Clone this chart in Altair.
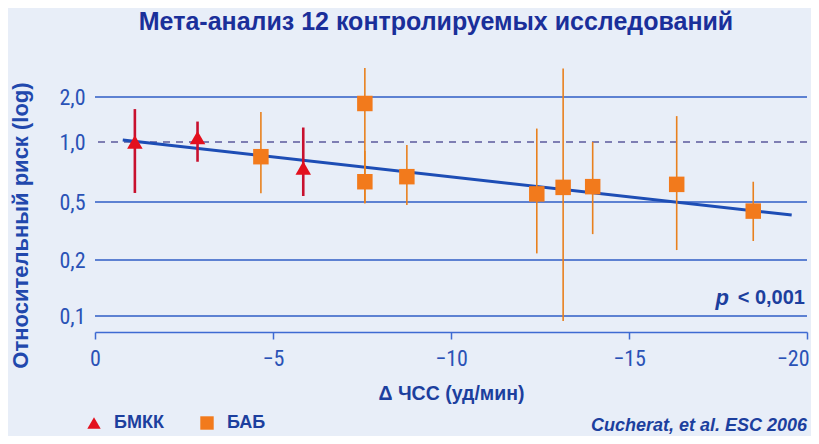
import altair as alt
import pandas as pd

# ---- data ----
groups = ["БМКК", "БМКК", "БАБ", "БМКК", "БАБ", "БАБ", "БАБ", "БАБ", "БАБ", "БАБ", "БАБ", "БАБ"]
delta_hr = [-1.12, -2.88, -4.66, -5.85, -7.58, -7.58, -8.76, -12.41, -13.15, -13.98, -16.34, -18.49]
rr = [1.00, 1.07, 0.844, 0.741, 1.81, 0.632, 0.67, 0.549, 0.592, 0.597, 0.613, 0.433]
rr_low = [0.555, 0.796, 0.553, 0.536, 0.49, 0.49, 0.477, 0.222, 0.094, 0.301, 0.234, 0.27]
rr_high = [1.66, 1.37, 1.59, 1.25, 3.13, 0.90, 0.966, 1.23, 3.11, 1.00, 1.49, 0.632]

fit_x = [-0.78, -19.57]
fit_y = [1.03, 0.407]

grid_values = [0.1, 0.2, 0.5, 2.0]
ref_value = [1.0]
y_ticks = [0.1, 0.2, 0.5, 1.0, 2.0]
x_ticks = [0, -5, -10, -15, -20]

# schematic (not strictly logarithmic) y axis of the original, reproduced piecewise
y_domain = [0.082, 0.1, 0.2, 0.5, 1.0, 2.0, 3.54]
y_range = [272, 256, 200, 142, 82, 37, 0]

df = pd.DataFrame({"group": groups, "dhr": delta_hr, "rr": rr, "lo": rr_low, "hi": rr_high})
fit_df = pd.DataFrame({"dhr": fit_x, "rr": fit_y})
grid_df = pd.DataFrame({"rr": grid_values})
ref_df = pd.DataFrame({"rr": ref_value})

NARROW = "Liberation Sans Narrow, Roboto Condensed, DejaVu Sans Condensed, Liberation Sans, Arial"
FONT = "Liberation Sans, Arial, Helvetica, sans-serif"
BLUE = "#1c3f9e"
GRID = "#2f5dc6"

xscale = alt.Scale(domain=[0, -20], nice=False, zero=False)
yscale = alt.Scale(type="log", domain=y_domain, range=y_range, nice=False)

xenc = alt.X("dhr:Q", scale=xscale, axis=alt.Axis(
    values=x_ticks, title="Δ ЧСС (уд/мин)", grid=False,
    domainColor="#3d6ad2", domainWidth=1.5, tickColor="#3d6ad2", tickSize=7, tickWidth=1.5,
    labelFont=NARROW, labelFontSize=22, labelColor="#2a52b6", labelPadding=9,
    labelAlign={"condition": {"test": "datum.value == -20", "value": "right"}, "value": "center"},
    labelOffset={"condition": {"test": "datum.value == -20", "value": 2}, "value": 0},
    titleFont=FONT, titleFontSize=19.5, titleFontWeight="bold", titleColor=BLUE, titlePadding=15))
yenc = alt.Y("rr:Q", scale=yscale, axis=alt.Axis(
    values=y_ticks, title="Относительный риск (log)", grid=False, domain=False, ticks=False,
    labelExpr="replace(format(datum.value, '.1f'), '.', ',')",
    labelFont=NARROW, labelFontSize=22, labelColor="#2a52b6", labelPadding=10,
    titleFont=FONT, titleFontSize=22, titleFontWeight="bold", titleColor="#2148ad",
    titleX=-75, titleY=165, titleAngle=270, titleAlign="center", titleBaseline="middle"))

grid = alt.Chart(grid_df).mark_rule(color=GRID, strokeWidth=1.6).encode(
    y=alt.Y("rr:Q", scale=yscale))
ref = alt.Chart(ref_df).mark_rule(color="#5b5a9c", strokeWidth=1.6, strokeDash=[7, 6]).encode(
    y=alt.Y("rr:Q", scale=yscale))

fit = alt.Chart(fit_df).mark_line(color="#1d4db5", strokeWidth=3).encode(
    x=alt.X("dhr:Q", scale=xscale), y=alt.Y("rr:Q", scale=yscale))

err_red = alt.Chart(df).transform_filter(alt.datum.group == "БМКК").mark_rule(
    color="#c8102e", strokeWidth=2.6).encode(
    x=alt.X("dhr:Q", scale=xscale), y=alt.Y("lo:Q", scale=yscale), y2="hi:Q")
err_orange = alt.Chart(df).transform_filter(alt.datum.group == "БАБ").mark_rule(
    color="#e8801e", strokeWidth=1.6).encode(
    x=alt.X("dhr:Q", scale=xscale), y=alt.Y("lo:Q", scale=yscale), y2="hi:Q")

legend = alt.Legend(title=None, orient="none", legendX=-10, legendY=354,
                    direction="horizontal", symbolSize=180,
                    labelFont=FONT, labelFontSize=18, labelFontWeight="bold",
                    labelColor=BLUE, labelOffset=11, columnPadding=34,
                    symbolStrokeWidth=0)
points = alt.Chart(df).mark_point(filled=True, opacity=1, size=240).encode(
    x=xenc, y=yenc,
    color=alt.Color("group:N", scale=alt.Scale(domain=["БМКК", "БАБ"], range=["#e3101e", "#f27a1c"]),
                    legend=legend),
    shape=alt.Shape("group:N", scale=alt.Scale(domain=["БМКК", "БАБ"], range=["triangle-up", "square"]),
                    legend=legend),
)

ptext_df = pd.DataFrame({"dhr": [-20], "rr": [0.125]})
ptext = alt.Chart(ptext_df).mark_text(text="< 0,001", align="right", baseline="middle", dx=-2,
                                      font=FONT, fontSize=20, fontWeight="bold", color=BLUE).encode(
    x=alt.X("dhr:Q", scale=xscale), y=alt.Y("rr:Q", scale=yscale))
ptext_p = alt.Chart(ptext_df).mark_text(text="p", align="right", baseline="middle", dx=-78,
                                        font=FONT, fontSize=22, fontWeight="bold", fontStyle="italic",
                                        color=BLUE).encode(
    x=alt.X("dhr:Q", scale=xscale), y=alt.Y("rr:Q", scale=yscale))

cite = alt.Chart(ptext_df).mark_text(text="Cucherat, et al. ESC 2006", align="right", baseline="middle",
                                     font=FONT, fontSize=18, fontWeight="bold", fontStyle="italic",
                                     color=BLUE).encode(
    x=alt.value(712), y=alt.value(366))

chart = alt.layer(grid, ref, fit, err_red, err_orange, points, ptext, ptext_p, cite).properties(
    width=712, height=272,
    padding={"left": 87, "top": 52, "right": 4, "bottom": 104},
    autosize=alt.AutoSizeParams(type="none"),
    background="#e8eef8",
    title=alt.Title("Мета-анализ 12 контролируемых исследований", font=FONT, fontSize=25,
                    fontWeight="bold", color="#1a2f9a", anchor="middle", dx=-15, offset=25),
).configure_view(stroke=None)

chart.save("out.html", embed_options={"renderer": "svg", "actions": False})
